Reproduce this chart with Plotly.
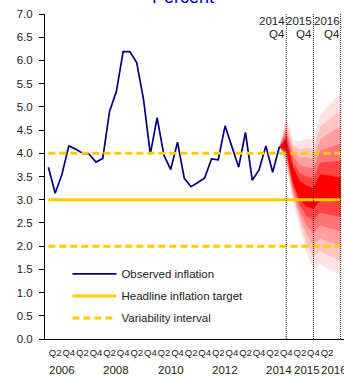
import plotly.graph_objects as go

# ---------------- data ----------------
years = list(range(2006, 2017))
quarters = [f"{y}Q{q}" for y in years for q in range(1, 5)]          # 2006Q1 .. 2016Q4
qpos = {q: i for i, q in enumerate(quarters)}

observed_quarters = quarters[:35]                                     # 2006Q1 .. 2014Q3
observed = [3.70, 3.14, 3.55, 4.16, 4.09, 4.00, 3.98, 3.81, 3.89, 4.90,
            5.33, 6.19, 6.19, 5.95, 5.16, 3.98, 4.77, 3.96, 3.65, 4.24,
            3.46, 3.28, 3.37, 3.47, 3.88, 3.86, 4.59, 4.14, 3.70, 4.45,
            3.42, 3.64, 4.16, 3.59, 4.14]

fan_quarters = quarters[34:]                                          # 2014Q3 .. 2016Q4
fan_lo_1 = [4.14, 3.75, 2.95, 2.40, 1.85, 1.50, 1.62, 1.52, 1.45, 1.36]
fan_lo_2 = [4.14, 3.81, 3.03, 2.52, 2.05, 1.76, 1.90, 1.81, 1.75, 1.68]
fan_lo_3 = [4.14, 3.87, 3.11, 2.64, 2.25, 2.02, 2.17, 2.10, 2.06, 1.99]
fan_lo_4 = [4.14, 3.93, 3.19, 2.76, 2.45, 2.28, 2.45, 2.40, 2.36, 2.31]
fan_lo_5 = [4.14, 3.99, 3.27, 2.88, 2.65, 2.54, 2.72, 2.69, 2.67, 2.63]
fan_lo_6 = [4.14, 4.05, 3.35, 3.00, 2.85, 2.80, 3.00, 2.98, 2.97, 2.95]
fan_hi_6 = [4.14, 4.30, 3.70, 3.40, 3.30, 3.25, 3.55, 3.52, 3.50, 3.48]
fan_hi_5 = [4.14, 4.40, 3.82, 3.57, 3.50, 3.46, 3.80, 3.82, 3.83, 3.84]
fan_hi_4 = [4.14, 4.50, 3.94, 3.74, 3.71, 3.67, 4.06, 4.11, 4.16, 4.21]
fan_hi_3 = [4.14, 4.59, 4.05, 3.91, 3.91, 3.88, 4.31, 4.41, 4.49, 4.57]
fan_hi_2 = [4.14, 4.69, 4.17, 4.08, 4.12, 4.09, 4.57, 4.70, 4.82, 4.94]
fan_hi_1 = [4.14, 4.79, 4.29, 4.25, 4.32, 4.30, 4.82, 5.00, 5.15, 5.30]

target = 3.0
interval_low = 2.0
interval_high = 4.0

forecast_marks = ["2014Q4", "2015Q4", "2016Q4"]
forecast_mark_years = ["2014", "2015", "2016"]
forecast_mark_quarter = "Q4"

tick_quarters = [q for q in quarters if q.endswith(("Q2", "Q4"))]
tick_text = [q[-2:] for q in tick_quarters]
year_labels = [2006, 2008, 2010, 2012, 2014, 2015, 2016]

# ---------------- styling ----------------
FONT = "Liberation Sans, Arial, sans-serif"
BLUE = "#000080"
GOLD = "#FFCC00"
TXT = "#222222"
FAN_COLORS = ["#FFE2E2", "#FFC4C4", "#FF9F9F", "#FF7474", "#FF4242", "#FF0000"]

fig = go.Figure()

fx = [qpos[q] for q in fan_quarters]
bands = [(fan_lo_1, fan_hi_1), (fan_lo_2, fan_hi_2), (fan_lo_3, fan_hi_3),
         (fan_lo_4, fan_hi_4), (fan_lo_5, fan_hi_5), (fan_lo_6, fan_hi_6)]
for (lo, hi), col in zip(bands, FAN_COLORS):
    fig.add_trace(go.Scatter(
        x=fx + fx[::-1], y=lo + hi[::-1], mode="lines", fill="toself",
        fillcolor=col, line=dict(width=0, color=col), showlegend=False,
        hoverinfo="skip"))

ox = [qpos[q] for q in observed_quarters]
fig.add_trace(go.Scatter(x=ox, y=observed, mode="lines", name="Observed inflation",
                         line=dict(color=BLUE, width=1.7), legendgroup="a"))

allx = list(range(len(quarters)))
fig.add_trace(go.Scatter(x=allx, y=[target] * len(allx), mode="lines",
                         name="Headline inflation target",
                         line=dict(color=GOLD, width=3), legendgroup="b"))
fig.add_trace(go.Scatter(x=allx, y=[interval_high] * len(allx), mode="lines",
                         name="Variability interval",
                         line=dict(color=GOLD, width=3, dash="7px,4px"), legendgroup="c"))
fig.add_trace(go.Scatter(x=allx, y=[interval_low] * len(allx), mode="lines",
                         showlegend=False,
                         line=dict(color=GOLD, width=3, dash="7px,4px"), legendgroup="c"))

for q, yr in zip(forecast_marks, forecast_mark_years):
    fig.add_shape(type="line", x0=qpos[q], x1=qpos[q], y0=0, y1=7, xref="x", yref="y",
                  line=dict(color=TXT, width=1, dash="1px,1px"))
    fig.add_annotation(x=qpos[q], y=1, xref="x", yref="paper", text=yr,
                       showarrow=False, xanchor="right", yanchor="middle",
                       xshift=1, yshift=-6.5, font=dict(family=FONT, size=11.5, color=TXT))
    fig.add_annotation(x=qpos[q], y=1, xref="x", yref="paper", text=forecast_mark_quarter,
                       showarrow=False, xanchor="right", yanchor="middle",
                       xshift=1, yshift=-20, font=dict(family=FONT, size=11.5, color=TXT))

for yr in year_labels:
    fig.add_annotation(x=qpos[f"{yr}Q3"], y=0, xref="x", yref="paper", text=str(yr),
                       showarrow=False, xanchor="center", yanchor="middle", yshift=-31,
                       font=dict(family=FONT, size=11.5, color=TXT))

fig.add_annotation(x=0.462, y=1, xref="paper", yref="paper", text="Percent",
                   showarrow=False, xanchor="center", yanchor="middle", yshift=17,
                   font=dict(family=FONT, size=18, color="#0000CC"))

fig.update_layout(
    width=344, height=376,
    margin=dict(l=45, r=0, t=14, b=37, autoexpand=False),
    paper_bgcolor="white", plot_bgcolor="white",
    font=dict(family=FONT, size=11.5, color=TXT),
    legend=dict(x=0.075, y=0.245, xanchor="left", yanchor="top",
                bgcolor="rgba(0,0,0,0)", font=dict(family=FONT, size=11.5, color=TXT),
                tracegroupgap=3, itemwidth=44),
    xaxis=dict(range=[-0.5, 43.5], tickvals=[qpos[q] for q in tick_quarters],
               ticktext=tick_text, ticks="", tickangle=0, showline=True, linecolor="#000000",
               linewidth=1, showgrid=False, zeroline=False, automargin=False,
               tickfont=dict(family=FONT, size=9.5, color=TXT),
               ticklabelstandoff=5),
    yaxis=dict(range=[0, 7], dtick=0.5, tickformat=".1f", ticks="outside", ticklen=5,
               tickcolor="#000000", showline=True, linecolor="#000000", linewidth=1,
               showgrid=False, zeroline=False, automargin=False,
               tickfont=dict(family=FONT, size=11.5, color=TXT),
               ticklabelstandoff=4),
    showlegend=True,
)

fig.write_html("out.html", config={"displayModeBar": False},
               post_script="document.body.style.margin='0';")
